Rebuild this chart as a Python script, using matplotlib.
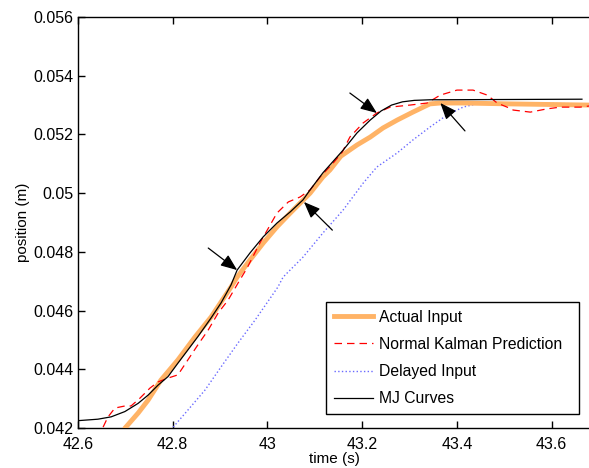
import matplotlib.pyplot as plt

plt.rcParams['font.family'] = ['Liberation Sans', 'DejaVu Sans']

# Actual input (thick orange)
actual_t = [42.701, 42.727, 42.748, 42.775, 42.811, 42.847, 42.881, 42.923, 42.936, 42.963,
            42.991, 43.020, 43.048, 43.069, 43.090, 43.117, 43.132, 43.155, 43.189, 43.217,
            43.244, 43.274, 43.307, 43.343, 43.365, 43.413, 43.512, 43.68]
actual_y = [0.04203, 0.04251, 0.04295, 0.04363, 0.04432, 0.04510, 0.04578, 0.04680, 0.04714, 0.04772,
            0.04830, 0.04885, 0.04932, 0.04966, 0.05000, 0.05055, 0.05079, 0.05126, 0.05164, 0.05191,
            0.05222, 0.05249, 0.05276, 0.05304, 0.05307, 0.05307, 0.05304, 0.05300]

# Normal Kalman prediction (red dashed)
kalman_t = [42.653, 42.663, 42.678, 42.699, 42.712, 42.731, 42.752, 42.769, 42.790, 42.811,
            42.832, 42.853, 42.875, 42.896, 42.917, 42.938, 42.957, 42.984, 43.020, 43.044,
            43.069, 43.090, 43.111, 43.139, 43.158, 43.174, 43.202, 43.231, 43.259, 43.301,
            43.337, 43.365, 43.400, 43.434, 43.464, 43.485, 43.506, 43.519, 43.555, 43.590,
            43.618, 43.660, 43.68]
kalman_y = [0.04203, 0.04237, 0.04268, 0.04275, 0.04275, 0.04302, 0.04336, 0.04357, 0.04370, 0.04381,
            0.04432, 0.04483, 0.04534, 0.04592, 0.04636, 0.04694, 0.04745, 0.04830, 0.04932, 0.04970,
            0.04987, 0.05011, 0.05055, 0.05103, 0.05140, 0.05191, 0.05239, 0.05273, 0.05293, 0.05300,
            0.05307, 0.05334, 0.05351, 0.05351, 0.05334, 0.05307, 0.05293, 0.05283, 0.05276, 0.05287,
            0.05293, 0.05293, 0.05297]

# Delayed input (blue dotted)
delayed_t = [42.801, 42.832, 42.868, 42.902, 42.938, 42.974, 43.022, 43.033, 43.075, 43.117,
             43.160, 43.202, 43.231, 43.274, 43.307, 43.343, 43.379, 43.413, 43.449, 43.512, 43.68]
delayed_y = [0.04203, 0.04261, 0.04329, 0.04408, 0.04490, 0.04568, 0.04680, 0.04714, 0.04782, 0.04864,
             0.04943, 0.05034, 0.05089, 0.05137, 0.05181, 0.05225, 0.05266, 0.05293, 0.05307, 0.05307,
             0.05304]

# MJ curves (black)
mj_t = [42.600, 42.642, 42.670, 42.699, 42.727, 42.748, 42.769, 42.790, 42.811, 42.832,
        42.853, 42.881, 42.902, 42.923, 42.936, 42.963, 42.991, 43.020, 43.048, 43.075,
        43.090, 43.117, 43.160, 43.189, 43.217, 43.240, 43.262, 43.285, 43.310, 43.343, 43.664]
mj_y = [0.04225, 0.04230, 0.04238, 0.04256, 0.04284, 0.04312, 0.04346, 0.04375, 0.04421, 0.04466,
        0.04511, 0.04575, 0.04626, 0.04687, 0.04738, 0.04796, 0.04851, 0.04898, 0.04936, 0.04977,
        0.05011, 0.05069, 0.05147, 0.05205, 0.05249, 0.05280, 0.05300, 0.05311, 0.05316, 0.05318, 0.05320]

# arrows: (tail_t, tail_y, head_t, head_y)
arrows = [(42.875, 0.04813, 42.936, 0.04738),
          (43.137, 0.04874, 43.077, 0.04970),
          (43.174, 0.05341, 43.231, 0.05273),
          (43.417, 0.05212, 43.365, 0.05307)]

xticks = [42.6, 42.8, 43.0, 43.2, 43.4, 43.6]
xtick_labels = ['42.6', '42.8', '43', '43.2', '43.4', '43.6']
yticks = [0.042, 0.044, 0.046, 0.048, 0.050, 0.052, 0.054, 0.056]
ytick_labels = ['0.042', '0.044', '0.046', '0.048', '0.05', '0.052', '0.054', '0.056']

fig = plt.figure(figsize=(5.89, 4.68), dpi=100)
ax = fig.add_axes([78 / 589, 1 - 428 / 468, 512 / 589, 411 / 468])

ax.plot(delayed_t, delayed_y, ':', color='#6a6aff', lw=1, label='Delayed Input', zorder=2)
ax.plot(actual_t, actual_y, '-', color='#ffb366', lw=3.5, label='Actual Input', zorder=3,
        solid_joinstyle='round')
ax.plot(kalman_t, kalman_y, '--', color='#ff0000', lw=0.9, dashes=(6, 4),
        label='Normal Kalman Prediction', zorder=4)
ax.plot(mj_t, mj_y, '-', color='black', lw=0.9, label='MJ Curves', zorder=5)

for t0, y0, t1, y1 in arrows:
    ax.annotate('', xy=(t1, y1), xytext=(t0, y0),
                arrowprops=dict(arrowstyle='-|>,head_length=1.0,head_width=0.4',
                                color='black', lw=0.9, shrinkA=0, shrinkB=0),
                zorder=6)

ax.set_xlim(42.6, 43.681)
ax.set_ylim(0.042, 0.056)
ax.set_xticks(xticks)
ax.set_xticklabels(xtick_labels)
ax.set_yticks(yticks)
ax.set_yticklabels(ytick_labels)
ax.tick_params(direction='in', top=True, right=False, labelsize=11.5, length=5, width=1)
ax.tick_params(axis='x', pad=6.5)
ax.spines['right'].set_visible(False)
for s in ['left', 'top', 'bottom']:
    ax.spines[s].set_linewidth(1)

ax.set_xlabel('time (s)', fontsize=11, labelpad=0)
ax.set_ylabel('position (m)', fontsize=11, labelpad=2)

handles, labels = ax.get_legend_handles_labels()
order = [1, 2, 0, 3]
leg = ax.legend([handles[i] for i in order], [labels[i] for i in order],
                loc='lower left', mode='expand', fontsize=11.3, fancybox=False, framealpha=1,
                edgecolor='black', borderpad=0.5, handlelength=2.5, handletextpad=0.4,
                labelspacing=0.77, borderaxespad=0,
                bbox_to_anchor=((326 - 78) / 512, 14 / 411, 253 / 512, 112 / 411))
leg.get_frame().set_linewidth(1)

fig.savefig('out.png', dpi=100)
